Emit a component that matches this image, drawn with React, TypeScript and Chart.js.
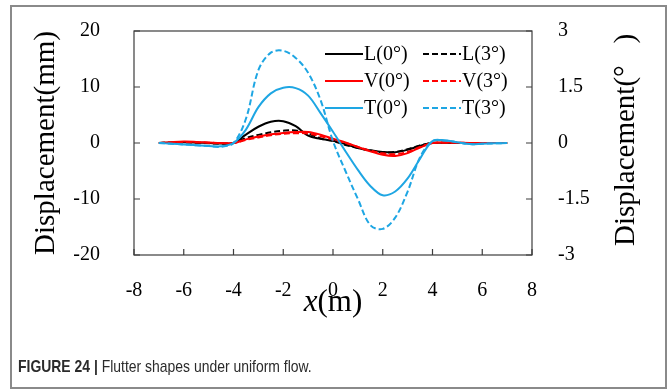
import React, { useEffect, useRef } from "react";
import { Chart, registerables } from "chart.js";

Chart.register(...registerables);

// ---- data ----
const xs = [-7, -6.5, -6, -5.5, -5, -4.5, -4, -3.5, -3, -2.5, -2, -1.5, -1, -0.5, 0, 0.5, 1, 1.5, 2, 2.5, 3, 3.5, 4, 4.5, 5, 5.5, 6, 6.5, 7];
// vertical displacement, mm
const L0 = [0, 0.1, 0.15, 0.1, 0, -0.1, 0, 1.5, 2.9, 3.8, 3.9, 3.0, 1.3, 0.75, 0.4, -0.2, -0.9, -1.3, -1.6, -1.65, -1.2, -0.5, 0, 0.05, 0, -0.05, 0, 0, 0];
const L3 = [0, 0.05, 0.1, 0.05, -0.05, -0.1, 0, 0.9, 1.45, 1.9, 2.2, 2.25, 1.7, 0.8, 0.35, -0.35, -0.9, -1.35, -1.65, -1.6, -1.1, -0.45, 0, 0.05, 0, 0, 0, 0, 0];
const V0 = [0, 0.15, 0.25, 0.2, 0.1, 0, 0, 0.65, 1.15, 1.55, 1.8, 1.95, 1.97, 1.5, 0.75, 0.1, -0.7, -1.5, -2.1, -2.3, -1.8, -0.8, 0, 0.1, 0.05, 0, 0, 0, 0];
const V3 = [0, 0.1, 0.15, 0.1, 0.05, 0, 0, 0.55, 1.0, 1.4, 1.65, 1.75, 1.7, 1.2, 0.6, 0, -0.7, -1.35, -1.85, -2.0, -1.6, -0.7, 0, 0.05, 0.05, 0, 0, 0, 0];
// torsional displacement, degrees
const T0 = [0, -0.02, -0.04, -0.06, -0.08, -0.09, 0, 0.36, 0.96, 1.33, 1.48, 1.47, 1.27, 0.8, 0.3, -0.22, -0.72, -1.15, -1.4, -1.3, -0.95, -0.42, 0.05, 0.07, 0.02, -0.03, -0.02, -0.01, 0];
const T3 = [0, -0.02, -0.04, -0.06, -0.08, -0.1, 0, 0.65, 1.95, 2.42, 2.47, 2.28, 1.88, 1.15, 0.05, -0.75, -1.5, -2.2, -2.3, -2.0, -1.3, -0.38, 0.05, 0.07, 0.02, -0.03, -0.02, -0.01, 0];

const seriesNames = ["L(0°)", "L(3°)", "V(0°)", "V(3°)", "T(0°)", "T(3°)"];
const xTicksShown = [-8, -6, -4, -2, 0, 2, 4, 6, 8];

const SERIF = '"Liberation Serif", "Times New Roman", serif';
const BLACK = "#000000";
const RED = "#ff0000";
const BLUE = "#1ea6e3";

const pts = (ys: number[]) => xs.map((x, i) => ({ x, y: ys[i] }));

const framePlugin = {
  id: "frame",
  beforeDatasetsDraw(chart: any) {
    const { ctx, chartArea: a, scales } = chart;
    ctx.save();
    ctx.strokeStyle = "#3c3c3c";
    ctx.lineWidth = 1.2;
    ctx.strokeRect(a.left, a.top, a.right - a.left, a.bottom - a.top);
    const tl = 6;
    ctx.beginPath();
    scales.y.ticks.forEach((t: any) => {
      const p = scales.y.getPixelForValue(t.value);
      ctx.moveTo(a.left, p);
      ctx.lineTo(a.left + tl, p);
    });
    scales.y1.ticks.forEach((t: any) => {
      const p = scales.y1.getPixelForValue(t.value);
      ctx.moveTo(a.right, p);
      ctx.lineTo(a.right - tl, p);
    });
    scales.x.ticks.forEach((t: any) => {
      const p = scales.x.getPixelForValue(t.value);
      ctx.moveTo(p, a.bottom);
      ctx.lineTo(p, a.bottom - tl);
    });
    ctx.stroke();
    ctx.restore();
  },
  afterDraw(chart: any) {
    const { ctx, chartArea: a } = chart;
    ctx.save();
    ctx.fillStyle = "#000";
    ctx.textBaseline = "middle";
    ctx.textAlign = "center";
    ctx.font = `29px ${SERIF}`;
    // left title
    ctx.save();
    ctx.translate(46, (a.top + a.bottom) / 2);
    ctx.rotate(-Math.PI / 2);
    ctx.fillText("Displacement(mm)", 0, 0);
    ctx.restore();
    // right title
    ctx.save();
    ctx.translate(626, (a.top + a.bottom) / 2 - 3);
    ctx.rotate(-Math.PI / 2);
    ctx.fillText("Displacement(°   )", 0, 0);
    ctx.restore();
    // x title: italic x + (m)
    const cx = (a.left + a.right) / 2;
    const cy = 303;
    ctx.font = `italic 31px ${SERIF}`;
    const w1 = ctx.measureText("x").width;
    ctx.font = `31px ${SERIF}`;
    const w2 = ctx.measureText("(m)").width;
    const sx = cx - (w1 + w2) / 2;
    ctx.textAlign = "left";
    ctx.font = `italic 31px ${SERIF}`;
    ctx.fillText("x", sx, cy);
    ctx.font = `31px ${SERIF}`;
    ctx.fillText("(m)", sx + w1, cy);

    // legend (2 columns x 3 rows)
    ctx.font = `20px ${SERIF}`;
    const ds = chart.data.datasets;
    const colLine = [a.left + 191, a.left + 289];
    const lineLen = 38;
    const rows = [a.top + 23, a.top + 50, a.top + 77];
    ds.forEach((d: any, i: number) => {
      const col = i % 2;
      const row = Math.floor(i / 2);
      const x0 = colLine[col];
      const y = rows[row];
      ctx.save();
      ctx.strokeStyle = d.borderColor;
      ctx.lineWidth = d.borderWidth;
      ctx.setLineDash(d.borderDash || []);
      ctx.beginPath();
      ctx.moveTo(x0, y);
      ctx.lineTo(x0 + lineLen, y);
      ctx.stroke();
      ctx.restore();
      ctx.fillStyle = "#000";
      ctx.textAlign = "left";
      ctx.fillText(d.label, x0 + lineLen + 1, y + 1);
    });
    ctx.restore();
  },
};

export default function App() {
  const ref = useRef<HTMLCanvasElement>(null);
  useEffect(() => {
    if (!ref.current) return;
    const mk = (i: number, ys: number[], color: string, dashed: boolean, axis: string, order: number) => ({
      label: seriesNames[i],
      data: pts(ys),
      borderColor: color,
      backgroundColor: color,
      borderWidth: 2,
      borderDash: dashed ? [6, 3] : [],
      pointRadius: 0,
      tension: 0.35,
      yAxisID: axis,
      order,
    });
    const chart = new Chart(ref.current, {
      type: "line",
      data: {
        datasets: [
          mk(0, L0, BLACK, false, "y", 6),
          mk(1, L3, BLACK, true, "y", 5),
          mk(2, V0, RED, false, "y", 4),
          mk(3, V3, RED, true, "y", 3),
          mk(4, T0, BLUE, false, "y1", 2),
          mk(5, T3, BLUE, true, "y1", 1),
        ],
      },
      options: {
        animation: false,
        responsive: false,
        events: [],
        layout: { padding: { top: 31, left: 0, right: 0, bottom: 0 } },
        plugins: { legend: { display: false }, tooltip: { enabled: false } },
        scales: {
          x: {
            type: "linear",
            min: -8,
            max: 8,
            grid: { display: false, drawTicks: false },
            border: { display: false },
            ticks: {
              stepSize: 1,
              autoSkip: false,
              maxRotation: 0,
              padding: 24,
              color: "#000",
              font: { family: SERIF, size: 20 },
              callback: (v: any) => (xTicksShown.includes(Number(v)) ? String(v) : null),
            },
            afterFit: (s: any) => {
              s.height = 135;
              s.paddingLeft = 0;
              s.paddingRight = 0;
            },
          },
          y: {
            position: "left",
            min: -20,
            max: 20,
            grid: { display: false, drawTicks: false },
            border: { display: false },
            ticks: {
              stepSize: 5,
              padding: 34,
              color: "#000",
              font: { family: SERIF, size: 20 },
              callback: (v: any) => (Number(v) % 10 === 0 ? String(v) : null),
            },
            afterFit: (s: any) => {
              s.width = 134;
              s.paddingTop = 0;
              s.paddingBottom = 0;
            },
          },
          y1: {
            position: "right",
            min: -3,
            max: 3,
            grid: { display: false, drawTicks: false },
            border: { display: false },
            ticks: {
              stepSize: 0.75,
              padding: 26,
              color: "#000",
              font: { family: SERIF, size: 20 },
              callback: (v: any) => {
                const n = Number(v) / 1.5;
                return Math.abs(n - Math.round(n)) < 1e-6 ? String(Math.round(Number(v) * 100) / 100) : null;
              },
            },
            afterFit: (s: any) => {
              s.width = 135;
              s.paddingTop = 0;
              s.paddingBottom = 0;
            },
          },
        },
      },
      plugins: [framePlugin],
    });
    return () => chart.destroy();
  }, []);

  return (
    <div style={{ position: "absolute", left: 0, top: 0, width: 667, height: 390, background: "#fff", overflow: "hidden" }}>
      <div
        style={{
          position: "absolute",
          left: 10,
          top: 5,
          width: 653,
          height: 380,
          border: "2px solid #8a8a8a",
        }}
      />
      <canvas ref={ref} width={667} height={390} style={{ position: "absolute", left: 0, top: 0 }} />
      <div
        style={{
          position: "absolute",
          left: 18,
          top: 357,
          fontFamily: '"Liberation Sans", Arial, sans-serif',
          fontSize: 17,
          color: "#2b2b2b",
          whiteSpace: "nowrap",
          lineHeight: "20px",
          transform: "scaleX(0.82)",
          transformOrigin: "left center",
        }}
      >
        <span style={{ fontWeight: "bold" }}>FIGURE 24 |</span> Flutter shapes under uniform flow.
      </div>
    </div>
  );
}
